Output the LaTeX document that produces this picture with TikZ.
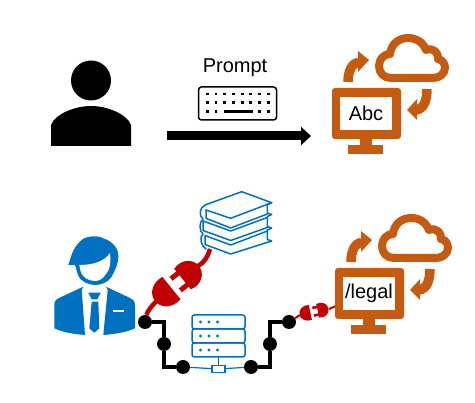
\documentclass[tikz,border=0pt]{standalone}
\usepackage{fontspec}
\setmainfont{Liberation Sans}
\usetikzlibrary{arrows.meta,positioning}
\definecolor{rustorange}{RGB}{197,90,17}
\definecolor{suitblue}{RGB}{0,112,192}
\definecolor{plugred}{RGB}{192,0,0}

\tikzset{
  pics/aicloud/.style={code={
    \fill[rustorange, rounded corners=3pt] (332,88) rectangle (401,139);
    \fill[white] (340,97) rectangle (392,130);
    \fill[rustorange] (360,139) rectangle (372,145);
    \fill[rustorange] (348,145) rectangle (383,154);
    \draw[rustorange, line width=8pt, line join=round] (391,78) .. controls (384,78) and (379,73) .. (379,66)
      .. controls (379,59) and (384,54) .. (390,54) .. controls (391,44) and (399,38) .. (408,38)
      .. controls (416,38) and (423,42) .. (426,50) .. controls (433,47) and (439,53) .. (438,59)
      .. controls (443,60) and (445,64) .. (445,68) .. controls (445,74) and (439,78) .. (433,78) -- cycle;
    \draw[rustorange, line width=9.5pt] (348,82) .. controls (348,71) and (352,63) .. (359,62);
    \fill[rustorange] (358,51) -- (369,60) -- (358,72) -- cycle;
    \draw[rustorange, line width=9.5pt] (427,89) .. controls (427,100) and (424,109) .. (416,110);
    \fill[rustorange] (417,99) -- (407,110) -- (417,120) -- cycle;
  }},
  pics/powerplug/.style={code={
    \fill[plugred] (-3,-13) -- (-3,13) .. controls (-13,15) and (-22,9) .. (-22,0)
      .. controls (-22,-9) and (-13,-15) .. (-3,-13) -- cycle;
    \fill[plugred] (2,-9) rectangle (12,-4.5);
    \fill[plugred] (2,4.5) rectangle (12,9);
    \fill[plugred] (10,-12) -- (10,12) .. controls (20,15) and (29,9) .. (29,0)
      .. controls (29,-9) and (20,-15) .. (10,-12) -- cycle;
  }}
}

\begin{document}
\begin{tikzpicture}[
  x=1pt, y=-1pt,
  dot/.style={circle, fill=black, inner sep=0pt, minimum size=14pt},
  wire/.style={draw=black, line width=3.2pt},
  cable/.style={draw=plugred, line width=4.5pt},
  thincable/.style={draw=plugred, line width=2pt},
  txt/.style={font=\fontsize{20}{24}\selectfont, inner sep=0pt},
  rack/.style={draw=suitblue, line width=1.5pt, rounded corners=2.5pt, minimum width=53pt, minimum height=14pt, inner sep=0pt, outer sep=0pt},
  bookline/.style={draw=suitblue, line width=1.5pt, line join=round, line cap=round},
  arrow/.style={-{Triangle[length=10pt,width=18pt]}, line width=9pt}
]
\useasboundingbox (0,0) rectangle (475,403);

% top row
\fill[black] (91,80.5) circle (20);
\fill[black] (51,146) -- (51,125) .. controls (55,114) and (75,106) .. (91,106)
  .. controls (107,106) and (127,114) .. (131,125) -- (131,146) -- cycle;

\node[txt] (prompt) at (235,68) {Prompt};
\node[draw, line width=1.5pt, rounded corners=3pt, minimum width=78pt, minimum height=33pt, inner sep=0pt] (keyboard) at (237.5,103.5) {};
\foreach \i in {0,...,7} {
  \fill (205.9+\i*8.7,92.6) rectangle +(2.8,2.8);
  \fill (205.9+\i*8.7,100.9) rectangle +(2.8,2.8);
}
\foreach \i in {0,1,6,7} \fill (205.9+\i*8.7,110.3) rectangle +(2.8,2.8);
\draw[line width=2.6pt] (223.5,111.7) -- (252.5,111.7);

\coordinate (sendstart) at (167,136);
\coordinate (sendend) at (311,136);
\draw[arrow] (sendstart) -- (sendend);

\pic at (0,0) {aicloud};
\node[txt] (abc) at (366,113) {Abc};

% bottom row
\fill[suitblue] (68.3,265) .. controls (71,258) and (72,248) .. (81.7,240)
  .. controls (86,236) and (98,235) .. (103,238.3) .. controls (112,241) and (119,248) .. (118.3,257)
  .. controls (118,265) and (115,270) .. (111.7,276.7) .. controls (108,283) and (100,285) .. (95,285)
  .. controls (88,285) and (80,281) .. (78,275) -- (75,265) -- cycle;
\fill[white] (79.3,265) .. controls (92,265) and (104,262) .. (110,253)
  .. controls (111,262) and (110,270) .. (106,274) .. controls (103,279) and (99,281) .. (95,281)
  .. controls (88,281) and (82,277) .. (80.5,271) -- cycle;
\fill[suitblue] (83.3,286.7) -- (59,298) .. controls (55,300) and (54.3,302) .. (54.3,306) -- (54.3,328.3)
  .. controls (62,332) and (72,334) .. (85,335) -- (81.7,290) -- cycle;
\fill[suitblue] (106,286.7) -- (130,298) .. controls (134,300) and (135,302) .. (135,306) -- (135,328.3)
  .. controls (127,332) and (116,334) .. (103.3,335) -- (107.7,290) -- cycle;
\fill[suitblue] (88.3,292.7) -- (100.7,292.7) -- (97.3,299.3) -- (91.7,299.3) -- cycle;
\fill[suitblue] (91.7,301.7) -- (98.3,301.7) -- (99.3,328.3) -- (94.3,332.7) -- (89.3,328.3) -- cycle;
\fill[white] (113.3,310) rectangle (124.3,312.3);

% books
\draw[bookline] (205,205) -- (241.7,191.7) -- (271.7,202.7) -- (230.7,218.3) -- (206,210);
\draw[bookline] (206,210) -- (206,218.3) -- (230.7,228) -- (267.3,214);
\draw[bookline] (271.7,202.7) -- (267.3,204.5) -- (267.3,213) -- (271.7,214.5) -- (267.3,216.5) -- (267.3,226.5)
  -- (271.7,228) -- (267.3,230) -- (267.3,239.5) -- (271.7,241) -- (230.7,254) -- (205,244.5) -- (205,235.5) -- (230.7,245) -- (267.3,231);
\draw[bookline] (205,205) .. controls (199,208) and (199,216) .. (203,219) .. controls (199,222) and (199,231) .. (203,234)
  .. controls (199,237) and (201,246) .. (206,249);
\draw[bookline] (203,221) -- (230.7,231) -- (267.3,217.5);
\draw[bookline] (203,221) -- (203,230.5) -- (230.7,240.5) -- (267.3,227.5);

% server
\node[rack] (srvtop) at (218.5,322) {};
\node[rack, below=0pt of srvtop] (srvmid) {};
\node[rack, below=0pt of srvmid] (srvbot) {};
\foreach \r in {srvtop,srvmid,srvbot}
  \foreach \i in {-18,-9.5,-1} \fill[suitblue] ([xshift=\i pt]\r.center) circle (1.7);
\node[draw=suitblue, line width=1.5pt, fill=white, minimum width=13pt, minimum height=7pt, inner sep=0pt] (hub) at (218.5,369) {};
\draw[suitblue, line width=1.2pt] (srvbot) -- (hub);

% wires
\node[dot] (wa) at (145,322) {};
\node[dot] (wb) at (164,344) {};
\node[dot] (wc) at (183,367) {};
\node[dot] (wd) at (251,367) {};
\node[dot] (we) at (270,344) {};
\node[dot] (wf) at (289,322) {};
\draw[wire] (wa) -| (wb) |- (wc);
\draw[wire] (wd) -| (we) |- (wf);
\draw[suitblue, line width=1.2pt] (wc) -- (hub) -- (wd);

% plugs
\coordinate (bigfem) at (158,300);
\coordinate (bigmale) at (198,266);
\coordinate (booksfoot) at (210,249);
\coordinate (smallfem) at (300,315);
\coordinate (smallmale) at (329,309);
\coordinate (pcleft) at (336,306);
\draw[cable] (wa) .. controls (147,312) and (152,305) .. (bigfem);
\draw[cable] (bigmale) .. controls (205,262) and (208,256) .. (booksfoot);
\draw[thincable] (wf) -- (smallfem);
\draw[thincable] (smallmale) -- (pcleft);
\pic[rotate=39, scale=1.1] at (174,286) {powerplug};
\pic[rotate=12, scale=0.58] at (312,312) {powerplug};

\pic at (3,180) {aicloud};
\node[txt] (legal) at (369,293) {/legal};
\end{tikzpicture}
\end{document}
